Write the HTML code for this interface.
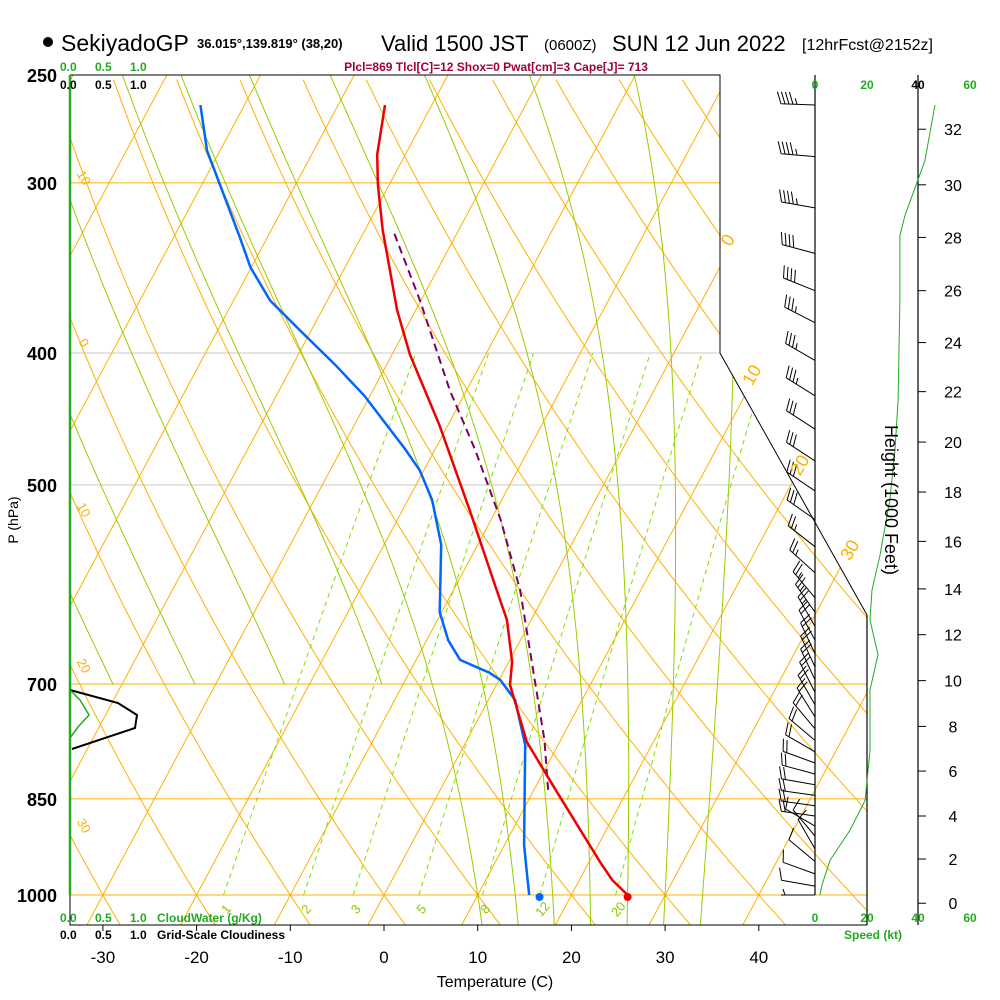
<!DOCTYPE html>
<html><head><meta charset="utf-8"><style>
body{margin:0;background:#fff;}
svg{display:block;font-family:"Liberation Sans",sans-serif;}
</style></head><body>
<svg id="c" width="1000" height="1000" viewBox="0 0 1000 1000">
<defs><clipPath id="clip"><path d="M70,75 L720,75 L720,353 L867,615 L867,925 L70,925 Z"/></clipPath></defs>
<g id="grid" clip-path="url(#clip)"></g>
<g id="prof"></g>
<g id="side"></g>
<g id="txt">
<circle cx="48" cy="42" r="5" fill="#000"/>
<text x="61" y="51" font-size="23">SekiyadoGP</text>
<text x="197" y="48" font-size="13" font-weight="bold">36.015°,139.819° (38,20)</text>
<text x="381" y="51" font-size="22">Valid 1500 JST</text>
<text x="544" y="50" font-size="15">(0600Z)</text>
<text x="612" y="51" font-size="22">SUN 12 Jun 2022</text>
<text x="802" y="50" font-size="16">[12hrFcst@2152z]</text>
<text x="496" y="71" font-size="12" font-weight="bold" fill="#a0003c" text-anchor="middle">Plcl=869 Tlcl[C]=12 Shox=0 Pwat[cm]=3 Cape[J]= 713</text>
<text x="60" y="71" font-size="12" font-weight="bold" fill="#22aa22">0.0 <tspan x="95">0.5</tspan><tspan x="130">1.0</tspan></text>
<text x="60" y="89" font-size="12" font-weight="bold">0.0 <tspan x="95">0.5</tspan><tspan x="130">1.0</tspan></text>
<text x="60" y="922" font-size="12" font-weight="bold" fill="#22aa22">0.0 <tspan x="95">0.5</tspan><tspan x="130">1.0</tspan><tspan x="157">CloudWater (g/Kg)</tspan></text>
<text x="60" y="939" font-size="12" font-weight="bold">0.0 <tspan x="95">0.5</tspan><tspan x="130">1.0</tspan><tspan x="157">Grid-Scale Cloudiness</tspan></text>
<text x="18" y="520" font-size="14" transform="rotate(-90 18 520)" text-anchor="middle">P (hPa)</text>
<text x="495" y="987" font-size="16" text-anchor="middle">Temperature (C)</text>
<text x="885" y="500" font-size="18" transform="rotate(90 885 500)" text-anchor="middle">Height (1000 Feet)</text>
<text x="815" y="89" font-size="12" font-weight="bold" fill="#22aa22" text-anchor="middle">0</text>
<text x="867" y="89" font-size="12" font-weight="bold" fill="#22aa22" text-anchor="middle">20</text>
<text x="918" y="89" font-size="12" font-weight="bold" text-anchor="middle">40</text>
<text x="970" y="89" font-size="12" font-weight="bold" fill="#22aa22" text-anchor="middle">60</text>
<text x="815" y="922" font-size="12" font-weight="bold" fill="#22aa22" text-anchor="middle">0</text>
<text x="867" y="922" font-size="12" font-weight="bold" fill="#22aa22" text-anchor="middle">20</text>
<text x="918" y="922" font-size="12" font-weight="bold" fill="#22aa22" text-anchor="middle">40</text>
<text x="970" y="922" font-size="12" font-weight="bold" fill="#22aa22" text-anchor="middle">60</text>
<text x="873" y="939" font-size="12" font-weight="bold" fill="#22aa22" text-anchor="middle">Speed (kt)</text>
</g>
</svg>
<script>
const pressureTicks=[250,300,400,500,700,850,1000];
const tempTicks=[-30,-20,-10,0,10,20,30,40];
const heightTicks=[0,2,4,6,8,10,12,14,16,18,20,22,24,26,28,30,32];
const heightTickP=[1014,941,875,811,752,696,644,596,550,506,465,427,393,360,329,301,274];
const tempP=[1000,975,946,837,772,701,674,628,597,522,452,401,372,325,301,286,263];
const tempT=[26.0,23.5,21.2,12.3,6.5,1.45,0.35,-2.6,-5.4,-12.8,-20.9,-28.1,-32.0,-38.1,-41.2,-43.0,-45.0];
const dewP=[1000,959,919,776,719,695,687,672,650,620,553,513,488,470,430,408,385,366,346,328,284,263];
const dewT=[15.5,13.8,12.1,6.5,2.85,0.1,-1.4,-5.3,-7.7,-10.2,-13.9,-17.4,-20.4,-23.3,-30.6,-35.5,-41.2,-46.1,-50.1,-53.1,-61.4,-64.7];
const parcelP=[837,770,695,597,530,471,426,366,325];
const parcelT=[11.5,8.3,3.8,-2.9,-9.0,-15.7,-21.8,-30.1,-37.0];
const mixRatios=[1,2,3,5,8,12,20];
const moistT0=[10,14,18,22,26,30,34];
const moistT0Upper=[-18,-10,-2,6];
const speedP=[263,289,317,328,366,433,471,513,563,597,628,666,707,783,852,896,943,983,1000];
const speedKt=[46.5,42.6,34.9,32.9,32.9,32.2,31,29,25.2,22.1,21.3,24.4,21.3,21.3,19.4,13.6,5.8,2.7,1.9];
const barbP=[263,287,313,338,360,380,405,430,455,480,505,530,555,580,605,620,635,650,665,680,695,710,725,740,755,770,785,800,815,830,845,860,875,890,905,925,945,965,985,1000];
const barbDir=[272,275,280,285,292,297,300,302,303,303,304,305,308,312,320,325,330,332,335,335,335,333,330,328,320,310,300,290,285,280,278,278,278,300,320,330,310,290,280,270];
const barbSpd=[45,45,45,40,40,35,35,35,30,30,30,30,25,25,25,25,25,20,20,20,20,20,20,20,20,20,20,20,20,20,20,20,20,10,10,10,10,10,10,5];

const NS='http://www.w3.org/2000/svg';
const LN4=Math.log(4);
function yP(p){return 895-Math.log(1000/p)/LN4*820;}
function xT(T,p){return 384+9.37*T+0.535*(895-yP(p));}
function mk(tag,attrs,parent){const e=document.createElementNS(NS,tag);for(const k in attrs)e.setAttribute(k,attrs[k]);parent.appendChild(e);return e;}
const grid=document.getElementById('grid'),prof=document.getElementById('prof'),side=document.getElementById('side'),txt=document.getElementById('txt');
const OR='#ffb000',YG='#99cc00';
function ptsStr(arrT,arrP){return arrT.map((t,i)=>xT(t,arrP[i]).toFixed(1)+','+yP(arrP[i]).toFixed(1)).join(' ');}

pressureTicks.forEach(p=>{
  const col=(p==400||p==500)?'#c8c8c8':OR;
  const xr=p<400?720:867;
  const l=mk('line',{x1:70,x2:xr,y1:yP(p),y2:yP(p),stroke:col,'stroke-width':1},grid);
  
  
  const t=mk('text',{x:57,y:yP(p)+7,'font-size':18,'font-weight':'bold','text-anchor':'end'},txt);
  t.textContent=p;
  
  
});
for(let T=-110;T<=40;T+=10){
  const pts=[1052,250].map(p=>xT(T,p).toFixed(1)+','+yP(p).toFixed(1)).join(' ');
  const l=mk('polyline',{points:pts,fill:'none',stroke:OR,'stroke-width':1},grid);
  
  
}
for(let th=-40;th<=200;th+=10){
  let s='';
  for(let p=1052;p>=250;p-=10){const T=(th+273.15)*Math.pow(p/1000,0.2857)-273.15;s+=xT(T,p).toFixed(1)+','+yP(p).toFixed(1)+' ';}
  const l=mk('polyline',{points:s,fill:'none',stroke:OR,'stroke-width':1},grid);
  
  
}
function es(T){return 6.112*Math.exp(17.67*T/(T+243.5));}
function mstep(Tk,p,dp){const e=es(Tk-273.15);const rs=0.622*e/(p-e);const dTdlnp=(287*Tk+2.5e6*rs)/(1004+2.5e6*2.5e6*rs*0.622/(287*Tk*Tk));return Tk+dTdlnp*Math.log((p+dp)/p);}
function moist(T0,pTop){
  const pts=[];let Tk=T0+273.15;
  for(let p=1000;p<1052;p+=4){Tk=mstep(Tk,p,4);}
  if(pTop>=1000)pts.push([Tk-273.15,1052]);
  Tk=T0+273.15;
  for(let p=1000;p>=250;p-=5){if(p<=pTop)pts.push([Tk-273.15,p]);Tk=mstep(Tk,p,-5);}
  return pts.map(q=>xT(q[0],q[1]).toFixed(1)+','+yP(q[1]).toFixed(1)).join(' ');
}
moistT0.forEach(T0=>{
  const l=mk('polyline',{points:moist(T0,1100),fill:'none',stroke:YG,'stroke-width':1},grid);
  
  
});
moistT0Upper.forEach(T0=>{
  const l=mk('polyline',{points:moist(T0,700),fill:'none',stroke:YG,'stroke-width':1},grid);
  
  
});
mixRatios.forEach(w=>{
  let s='';
  for(let p=1000;p>=400;p-=20){const e=w*p/(622+w);const L=Math.log(e/6.112);const T=243.5*L/(17.67-L);s+=xT(T,p).toFixed(1)+','+yP(p).toFixed(1)+' ';}
  const l=mk('polyline',{points:s,fill:'none',stroke:'#88dd00','stroke-width':1,'stroke-dasharray':'5,4'},grid);
  
  
  const e=w*1000/(622+w);const L=Math.log(e/6.112);const T=243.5*L/(17.67-L);
  const t=mk('text',{x:xT(T,1000)+6,y:912,'font-size':13,fill:'#88cc00','text-anchor':'middle',transform:`rotate(-50 ${xT(T,1000)+6} 912)`},txt);
  t.textContent=w;
  
  
});
[[0,733,243],[10,757,378],[20,805,468],[30,855,553]].forEach(a=>{
  const t=mk('text',{x:a[1],y:a[2],'font-size':18,fill:OR,'text-anchor':'middle',transform:`rotate(-60 ${a[1]} ${a[2]})`},txt);
  t.textContent=a[0];
  
  
});
[['10',80,180],['0',80,345],['10',80,512],['20',80,668],['30',80,828]].forEach(a=>{
  const t=mk('text',{x:a[1],y:a[2],'font-size':13,fill:OR,'text-anchor':'middle',transform:`rotate(60 ${a[1]} ${a[2]})`},txt);
  t.textContent=a[0];
  
  
});
{const l=mk('path',{d:'M70,75 L70,925 L867,925 L867,615 L720,353 L720,75 L70,75',fill:'none',stroke:'#000','stroke-width':1},prof);

}
{const l=mk('line',{x1:70,x2:70,y1:75,y2:895,stroke:'#22aa22','stroke-width':2.5},prof);

}
tempTicks.forEach(T=>{
  const x=xT(T,1000);
  const l=mk('line',{x1:x,x2:x,y1:925,y2:931,stroke:'#000'},prof);
  
  
  const t=mk('text',{x:x,y:963,'font-size':17,'text-anchor':'middle'},txt);
  t.textContent=T;
  
  
});
{const l=mk('polyline',{points:'70,690 118,703 137,715 135,728 72,749',fill:'none',stroke:'#000','stroke-width':2},prof);


const g=mk('polyline',{points:'70,690 80,700 89,715 78,727 70,738',fill:'none',stroke:'#22aa22','stroke-width':1.5},prof);

}
{const p=mk('polyline',{points:ptsStr(parcelT,parcelP),fill:'none',stroke:'#800060','stroke-width':2,'stroke-dasharray':'8,5'},prof);


const d=mk('polyline',{points:ptsStr(dewT,dewP),fill:'none',stroke:'#0066ff','stroke-width':2.5},prof);


const t=mk('polyline',{points:ptsStr(tempT,tempP),fill:'none',stroke:'#ee0000','stroke-width':2.5},prof);


const c1=mk('circle',{cx:xT(tempT[0],tempP[0]),cy:yP(tempP[0])+2,r:4,fill:'#ee0000'},prof);


const c2=mk('circle',{cx:xT(16.6,1000),cy:yP(1000)+2,r:4,fill:'#0066ff'},prof);

}
[[815,75,815,895],[867,615,867,925],[918,75,918,925]].forEach(a=>{
  const l=mk('line',{x1:a[0],y1:a[1],x2:a[2],y2:a[3],stroke:'#000','stroke-width':1.2},side);
  
  
});
heightTicks.forEach((h,i)=>{
  const y=yP(heightTickP[i]);
  const l=mk('line',{x1:918,x2:926,y1:y,y2:y,stroke:'#000'},side);
  
  
  const t=mk('text',{x:953,y:y+6,'font-size':16,'text-anchor':'middle'},txt);
  t.textContent=h;
  
  
});
{const s=speedKt.map((v,i)=>(815+2.58*v).toFixed(1)+','+yP(speedP[i]).toFixed(1)).join(' ');
const l=mk('polyline',{points:s,fill:'none',stroke:'#22aa22','stroke-width':1},side);

}
barbP.forEach((p,i)=>{
  const d=barbDir[i]*Math.PI/180,vx=Math.sin(d),vy=-Math.cos(d);
  const bx=815,by=yP(p),L=34;
  const ex=bx+vx*L,ey=by+vy*L;
  const px=-vy,py=vx;
  let dstr=`M${bx},${by.toFixed(1)} L${ex.toFixed(1)},${ey.toFixed(1)}`;
  let spd=barbSpd[i],pos=0;
  while(spd>=10){const sx=ex-vx*pos,sy=ey-vy*pos;dstr+=` M${sx.toFixed(1)},${sy.toFixed(1)} l${(px*12+vx*4).toFixed(1)},${(py*12+vy*4).toFixed(1)}`;spd-=10;pos+=4;}
  if(spd>=5){if(pos==0)pos=4;const sx=ex-vx*pos,sy=ey-vy*pos;dstr+=` M${sx.toFixed(1)},${sy.toFixed(1)} l${(px*6+vx*2).toFixed(1)},${(py*6+vy*2).toFixed(1)}`;}
  const b=mk('path',{d:dstr,fill:'none',stroke:'#000','stroke-width':1},side);
  
  
});
</script>
</body></html>
